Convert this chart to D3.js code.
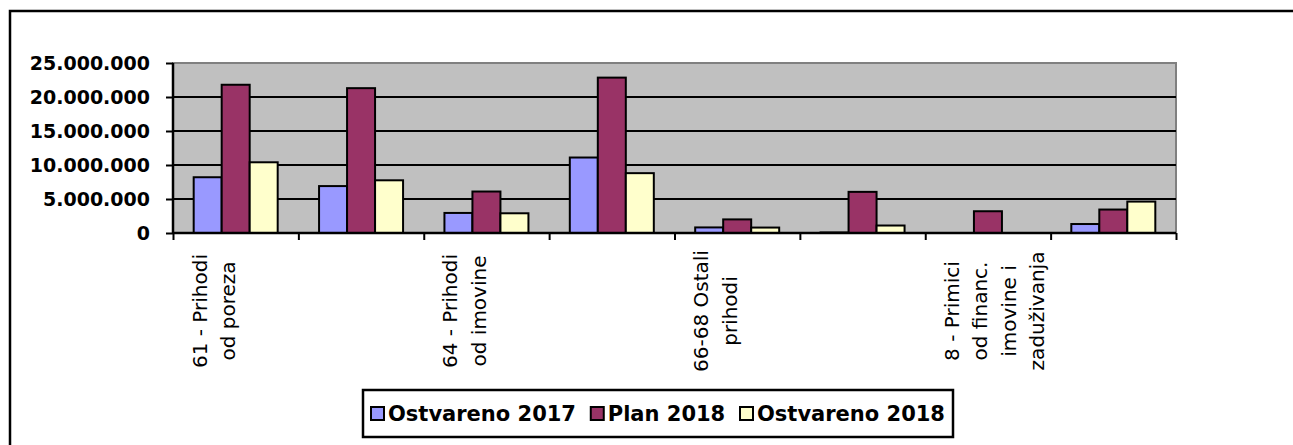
<!DOCTYPE html>
<html>
<head>
<meta charset="utf-8">
<script src="https://cdn.jsdelivr.net/npm/d3@7"></script>
<style>
  body { margin: 0; background: #fff; }
  svg { display: block; }
</style>
</head>
<body>
<svg width="1293" height="445"></svg>
<script>
// Categories (only every second label is shown on the axis, as in the original)
const categories = [
  ["61 - Prihodi", "od poreza"],
  ["63 - Pomoći"],
  ["64 - Prihodi", "od imovine"],
  ["65 - Prihodi", "po posebnim", "propisima"],
  ["66-68 Ostali", "prihodi"],
  ["7 - Prihodi od", "prodaje", "nefin. imovine"],
  ["8 - Primici", "od financ.", "imovine i", "zaduživanja"],
  ["9 - Vlastiti", "izvori"]
];
const seriesNames = ["Ostvareno 2017", "Plan 2018", "Ostvareno 2018"];
const seriesColors = ["#9999FF", "#993366", "#FFFFCC"];

const ostvareno2017 = [8200000, 6900000, 2950000, 11100000, 820000, 80000, 0, 1320000];
const plan2018      = [21800000, 21300000, 6100000, 22850000, 2000000, 6050000, 3200000, 3450000];
const ostvareno2018 = [10400000, 7750000, 2900000, 8800000, 800000, 1100000, 0, 4620000];

const yTicks = [0, 5000000, 10000000, 15000000, 20000000, 25000000];

const svg = d3.select("svg");

// outer frame
svg.append("rect")
  .attr("x", 10).attr("y", 11)
  .attr("width", 1400).attr("height", 600)
  .attr("fill", "none")
  .attr("stroke", "#000")
  .attr("stroke-width", 2.5);

const pLeft = 173, pRight = 1176, pTop = 63, pBottom = 233;

const x = d3.scaleBand()
  .domain(d3.range(categories.length))
  .range([pLeft, pRight])
  .paddingInner(0.33)
  .paddingOuter(0.165);
const xs = d3.scaleBand()
  .domain(d3.range(seriesNames.length))
  .range([0, x.bandwidth()]);
const y = d3.scaleLinear().domain([0, 25000000]).range([pBottom, pTop]);

const fmt = d3.formatLocale({ decimal: ",", thousands: ".", grouping: [3], currency: ["", ""] }).format(",");

// plot area
svg.append("rect")
  .attr("x", pLeft).attr("y", pTop)
  .attr("width", pRight - pLeft).attr("height", pBottom - pTop)
  .attr("fill", "#C0C0C0")
  .attr("stroke", "#808080")
  .attr("stroke-width", 2);

// gridlines
svg.append("g")
  .selectAll("line")
  .data(yTicks.filter(d => d > 0 && d < 25000000))
  .join("line")
  .attr("x1", pLeft).attr("x2", pRight)
  .attr("y1", d => y(d)).attr("y2", d => y(d))
  .attr("stroke", "#000")
  .attr("stroke-width", 2);

// bars
const all = [ostvareno2017, plan2018, ostvareno2018];
all.forEach((vals, s) => {
  svg.append("g")
    .selectAll("rect")
    .data(vals)
    .join("rect")
    .attr("x", (d, i) => x(i) + xs(s))
    .attr("y", d => y(d))
    .attr("width", xs.bandwidth())
    .attr("height", d => y(0) - y(d))
    .attr("fill", seriesColors[s])
    .attr("stroke", "#000")
    .attr("stroke-width", d => d > 0 ? 2 : 0);
});

// y axis
const yAxis = svg.append("g")
  .attr("transform", `translate(${pLeft},0)`)
  .call(d3.axisLeft(y).tickValues(yTicks).tickFormat(fmt).tickSize(7).tickPadding(16));
yAxis.select(".domain").attr("stroke-width", 2.5).attr("d", `M0,${pTop}V${pBottom}`);
yAxis.selectAll(".tick line").attr("stroke-width", 2);
yAxis.selectAll("text")
  .attr("font-family", "DejaVu Sans")
  .attr("font-weight", "bold")
  .attr("font-size", 19)
  .attr("fill", "#000");

// x axis: ticks on category boundaries
const xb = d3.scaleLinear().domain([0, categories.length]).range([pLeft, pRight]);
const xAxis = svg.append("g")
  .attr("transform", `translate(0,${pBottom})`)
  .call(d3.axisBottom(xb).tickValues(d3.range(categories.length + 1)).tickSize(7).tickFormat(""));
xAxis.select(".domain").attr("stroke-width", 2.5).attr("d", `M${pLeft},0H${pRight}`);
xAxis.selectAll(".tick line").attr("stroke-width", 2);

// category labels, rotated, every second one
const lab = svg.append("g");
categories.forEach((lines, i) => {
  if (i % 2 !== 0) return;
  const cx = x(i) + x.bandwidth() / 2;
  lines.forEach((t, j) => {
    lab.append("text")
      .attr("transform", `translate(${cx - 29 + j * 28.5},311) rotate(-90)`)
      .attr("text-anchor", "middle")
      .attr("font-family", "DejaVu Sans")
      .attr("font-size", 20)
      .attr("fill", "#000")
      .text(t);
  });
});

// legend
const lg = svg.append("g");
const lx = 363, ly = 390, lw = 590, lhgt = 47;
lg.append("rect")
  .attr("x", lx).attr("y", ly).attr("width", lw).attr("height", lhgt)
  .attr("fill", "#fff").attr("stroke", "#000").attr("stroke-width", 2.5);
const items = lg.selectAll("g.item")
  .data(seriesNames)
  .join("g")
  .attr("class", "item");
items.append("rect")
  .attr("y", ly + 17).attr("width", 13).attr("height", 13)
  .attr("fill", (d, s) => seriesColors[s]).attr("stroke", "#000").attr("stroke-width", 2);
items.append("text")
  .attr("x", 17).attr("y", ly + 31)
  .attr("font-family", "DejaVu Sans")
  .attr("font-weight", "bold")
  .attr("font-size", 21)
  .attr("fill", "#000")
  .text(d => d);
const widths = items.nodes().map(n => n.getBBox().width);
const gap = (lw - 16 - d3.sum(widths)) / (seriesNames.length - 1);
let cur = lx + 8;
items.each(function(d, s) {
  d3.select(this).attr("transform", `translate(${cur},0)`);
  cur += widths[s] + gap;
});
</script>
</body>
</html>
